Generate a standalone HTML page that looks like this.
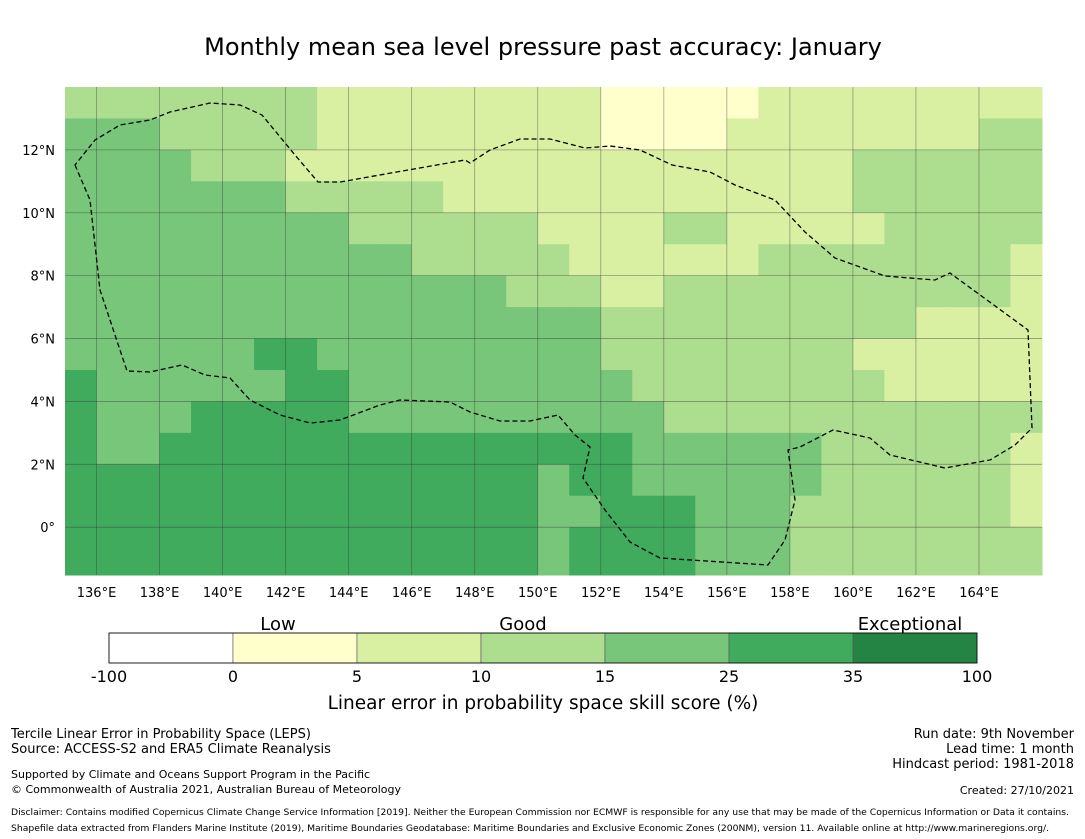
<!DOCTYPE html>
<html><head><meta charset="utf-8"><style>
body{margin:0;background:#fff;width:1085px;height:839px;overflow:hidden;font-family:"DejaVu Sans","Liberation Sans",sans-serif;}
svg{position:absolute;left:0;top:0;font-family:"DejaVu Sans","Liberation Sans",sans-serif;}
</style></head><body>
<svg id="chart" width="1085" height="839">
<text x="543" y="55" font-size="24" text-anchor="middle">Monthly mean sea level pressure past accuracy: January</text>
<g id="cells"></g>
<g id="grid"></g>
<path id="eez" fill="none" stroke="#000" stroke-width="1.3" stroke-dasharray="5,3"
d="M75,165 L90,200 L100,290 L127,371 L150,372 L182,365 L205,375 L230,378 L250,400 L280,415 L310,423 L340,420 L380,405 L400,400 L450,402 L470,412 L500,421 L530,421 L558,415 L575,435 L590,447 L583,478 L605,510 L630,542 L660,558 L768,565 L785,540 L795,500 L788,450 L800,447 L833,430 L870,438 L890,455 L945,468 L990,460 L1015,445 L1032,428 L1028,330 L950,273 L935,280 L885,276 L835,258 L805,232 L775,200 L735,185 L710,172 L672,165 L640,150 L610,146 L585,148 L550,139 L520,139 L490,150 L470,163 L465,160 L340,182 L318,182 L295,155 L262,115 L240,105 L210,103 L170,112 L150,120 L120,125 L95,140 Z"/>
<g id="xticks"></g>
<g id="yticks"></g>
<g id="cbar"></g>
<text x="278" y="630" font-size="18" text-anchor="middle">Low</text>
<text x="523" y="630" font-size="18" text-anchor="middle">Good</text>
<text x="910" y="630" font-size="18" text-anchor="middle">Exceptional</text>
<text x="543" y="709" font-size="18.5" text-anchor="middle">Linear error in probability space skill score (%)</text>
<g font-size="13">
<text x="11" y="738">Tercile Linear Error in Probability Space (LEPS)</text>
<text x="11" y="753">Source: ACCESS-S2 and ERA5 Climate Reanalysis</text>
<text x="11" y="778" font-size="11">Supported by Climate and Oceans Support Program in the Pacific</text>
<text x="11" y="793" font-size="11">© Commonwealth of Australia 2021, Australian Bureau of Meteorology</text>
</g>
<g font-size="13" text-anchor="end">
<text x="1074" y="738">Run date: 9th November</text>
<text x="1074" y="753">Lead time: 1 month</text>
<text x="1074" y="768">Hindcast period: 1981-2018</text>
<text x="1074" y="794" font-size="11">Created: 27/10/2021</text>
</g>
<text x="11" y="815" font-size="8.5" textLength="1058" lengthAdjust="spacingAndGlyphs">Disclaimer: Contains modified Copernicus Climate Change Service Information [2019]. Neither the European Commission nor ECMWF is responsible for any use that may be made of the Copernicus Information or Data it contains.</text>
<text x="11" y="831" font-size="8.5" textLength="1038" lengthAdjust="spacingAndGlyphs">Shapefile data extracted from Flanders Marine Institute (2019), Maritime Boundaries Geodatabase: Maritime Boundaries and Exclusive Economic Zones (200NM), version 11. Available online at http://www.marineregions.org/.</text>
</svg>
<script>
const lons=[135,136,137,138,139,140,141,142,143,144,145,146,147,148,149,150,151,152,153,154,155,156,157,158,159,160,161,162,163,164,165];
const latTop=[14,13,12,11,10,9,8,7,6,5,4,3,2,1,0,-1];
const skillRows=[
"3333333322222222211111222222222",
"4443333322222222211112222222233",
"4444333222222222222222222333333",
"4444444333332222222222222333333",
"4444444443333332222332222233333",
"4444444444433333222222333333332",
"4444444444444433322333333333332",
"4444444444444444433333333332222",
"4444445544444444433333333222222",
"5444444554444444443333333322222",
"5444555554444444444333333333333",
"5445555555555555554444443333332",
"5555555555555554554444443333332",
"5555555555555554455544433333332",
"5555555555555554555544433333333",
"5555555555555554555544433333333"];
const levelColors=["#ffffff","#ffffcc","#d9f0a3","#addd8e","#78c679","#41ab5d","#238443"];
const cbTicks=["-100","0","5","10","15","25","35","100"];
const xTickLons=[136,138,140,142,144,146,148,150,152,154,156,158,160,162,164];
const yTickLats=[12,10,8,6,4,2,0];
const X0=65,X1=1042,Y0=87,Y1=575;
const lonMin=135,lonMax=166,latMax=14,latMin=-1.52;
const sx=l=>X0+(l-lonMin)*(X1-X0)/(lonMax-lonMin);
const sy=l=>Y0+(latMax-l)*(Y1-Y0)/(latMax-latMin);
const NS="http://www.w3.org/2000/svg";
function mk(t,a,p){const e=document.createElementNS(NS,t);for(const k in a)e.setAttribute(k,a[k]);p.appendChild(e);return e;}
const cells=document.getElementById('cells');
skillRows.forEach((row,r)=>{
  const top=latTop[r],bot=Math.max(top-1,latMin);
  lons.forEach((lon,c)=>{
    const v=+row[c];
    const e=mk('rect',{x:sx(lon),y:sy(top),width:sx(lon+1)-sx(lon)+0.5,height:sy(bot)-sy(top)+0.5,fill:levelColors[v]},cells);
    
    
  });
});
const grid=document.getElementById('grid');
const xt=document.getElementById('xticks');
xTickLons.forEach(l=>{
  const g=mk('line',{x1:sx(l),x2:sx(l),y1:Y0,y2:Y1,stroke:'#333','stroke-opacity':0.45,'stroke-width':0.8},grid);
  
  
  const t=mk('text',{x:sx(l),y:597,'font-size':13,'text-anchor':'middle'},xt);
  t.textContent=l+'°E';
  
  
});
const yt=document.getElementById('yticks');
yTickLats.forEach(l=>{
  const g=mk('line',{x1:X0,x2:X1,y1:sy(l),y2:sy(l),stroke:'#333','stroke-opacity':0.45,'stroke-width':0.8},grid);
  
  
  const t=mk('text',{x:55,y:sy(l)+5,'font-size':13,'text-anchor':'end'},yt);
  t.textContent=l===0?'0°':l+'°N';
  
  
});
const cb=document.getElementById('cbar');
const cbX0=109,cbW=124;
for(let i=0;i<7;i++){
  const r=mk('rect',{x:cbX0+i*cbW,y:633,width:cbW,height:30,fill:levelColors[i],stroke:'#555','stroke-width':0.6},cb);
  
  
}
mk('rect',{x:cbX0,y:633,width:cbW*7,height:30,fill:'none',stroke:'#000','stroke-width':0.8},cb);
cbTicks.forEach((t,i)=>{
  const e=mk('text',{x:cbX0+i*cbW,y:682,'font-size':16,'text-anchor':'middle'},cb);
  e.textContent=t;
  
  
});
</script>
</body></html>
